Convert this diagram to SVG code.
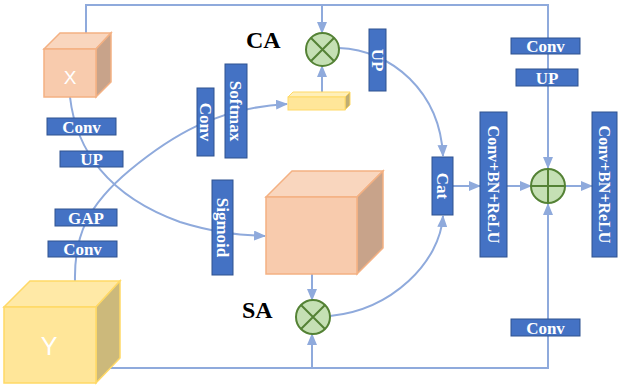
<svg xmlns="http://www.w3.org/2000/svg" width="618" height="391" viewBox="0 0 618 391">
<style>
.ln{fill:none;stroke:#8FAADC;stroke-width:2}
.ar{marker-end:url(#ah)}
.bx{fill:#4472C4;stroke:#2F528F;stroke-width:1}
.bt{font-family:"Liberation Serif","Times New Roman",serif;font-weight:bold;font-size:17px;fill:#fff;text-anchor:middle}
.lbl{font-family:"Liberation Serif","Times New Roman",serif;font-weight:bold;font-size:24px;fill:#000}
.cl{font-family:"Liberation Sans",Arial,sans-serif;fill:#fff;text-anchor:middle}
.op{fill:#C5E0B4;stroke:#548235;stroke-width:2}
.opl{stroke:#548235;stroke-width:2}
</style>
<defs>
<marker id="ah" markerUnits="userSpaceOnUse" markerWidth="12" markerHeight="10" refX="11" refY="5" orient="auto">
<path d="M0,0 L12,5 L0,10 Z" fill="#8FAADC"/>
</marker>
</defs>
<rect width="618" height="391" fill="#fff"/>
<g id="connectors">
<path class="ln" d="M86,33 V5 H548 V168" marker-end="url(#ah)"/>
<path class="ln ar" d="M322,5 V33"/>
<path class="ln" d="M110,368 H548 V204" marker-end="url(#ah)"/>
<path class="ln ar" d="M312,368 V334"/>
<path class="ln ar" d="M322,92 V66"/>
<path class="ln ar" d="M312,274 V300"/>
<path class="ln ar" d="M70,97 C76,150 108,196 180,222 C215,233 240,235 265,236"/>
<path class="ln ar" d="M75,281 C74,235 88,205 130,170 C170,137 215,108 287,104"/>
<path class="ln ar" d="M339,48 C392,50 440,92 443,156"/>
<path class="ln ar" d="M330,316 C392,310 440,262 443,216"/>
<path class="ln ar" d="M453,186 H480"/>
<path class="ln ar" d="M507,186 H531"/>
<path class="ln ar" d="M565,186 H592"/>
</g>
<g id="X">
<path d="M44,49 L60,33 L111,33 L96,49 Z" fill="#F9D6BE" stroke="#F4B183" stroke-width="1.5"/>
<path d="M96,49 L111,33 L111,82 L96,97 Z" fill="#C8A38A" stroke="#F4B183" stroke-width="1.5"/>
<rect x="44" y="49" width="52" height="48" fill="#F8CBAD" stroke="#F4B183" stroke-width="1.5"/>
<text class="cl" x="70" y="84" font-size="19">X</text>
</g>
<g id="Y">
<path d="M4,307 L30,281 L120,281 L96,307 Z" fill="#FFE9A6" stroke="#FFD966" stroke-width="1.5"/>
<path d="M96,307 L120,281 L120,358 L96,383 Z" fill="#CCB97B" stroke="#FFD966" stroke-width="1.5"/>
<rect x="4" y="307" width="92" height="76" fill="#FFE699" stroke="#FFD966" stroke-width="1.5"/>
<text class="cl" x="49" y="355" font-size="25">Y</text>
</g>
<g id="bigcube">
<path d="M266,197 L292,171 L383,171 L357,197 Z" fill="#F9D6BE" stroke="#F4B183" stroke-width="1.5"/>
<path d="M357,197 L383,171 L383,248 L357,274 Z" fill="#C8A38A" stroke="#F4B183" stroke-width="1.5"/>
<rect x="266" y="197" width="91" height="77" fill="#F8CBAD" stroke="#F4B183" stroke-width="1.5"/>
</g>
<g id="bar">
<path d="M288,97 L293,92 L350,92 L345,97 Z" fill="#FFEFB8" stroke="#FFD966" stroke-width="1"/>
<path d="M345,97 L350,92 L350,105 L345,110 Z" fill="#BFAD73" stroke="#FFD966" stroke-width="1"/>
<rect x="288" y="97" width="57" height="13" fill="#FFE699" stroke="#FFD966" stroke-width="1"/>
</g>
<g id="CA">
<circle class="op" cx="322.5" cy="49.5" r="16.5"/>
<path class="opl" d="M310.8,37.8 L334.2,61.2 M334.2,37.8 L310.8,61.2"/>
<text class="lbl" x="246" y="48">CA</text>
</g>
<g id="SA">
<circle class="op" cx="313" cy="317" r="17"/>
<path class="opl" d="M301,305 L325,329 M325,305 L301,329"/>
<text class="lbl" x="242" y="318">SA</text>
</g>
<g id="add">
<circle class="op" cx="548" cy="186" r="17"/>
<path class="opl" d="M531,186 H565 M548,169 V203"/>
</g>
<g id="convX"><rect class="bx" x="47" y="118" width="69" height="17"/><text class="bt" x="81.5" y="132.5">Conv</text></g>
<g id="upX"><rect class="bx" x="60" y="151" width="63" height="16"/><text class="bt" x="91.5" y="165">UP</text></g>
<g id="gap"><rect class="bx" x="55" y="209" width="62" height="17"/><text class="bt" x="86" y="223.5">GAP</text></g>
<g id="convY"><rect class="bx" x="48" y="241" width="69" height="16"/><text class="bt" x="82.5" y="255">Conv</text></g>
<g id="convTR"><rect class="bx" x="511" y="38" width="69" height="16"/><text class="bt" x="545.5" y="52">Conv</text></g>
<g id="upTR"><rect class="bx" x="516" y="69" width="62" height="17"/><text class="bt" x="547" y="83.5">UP</text></g>
<g id="convBR"><rect class="bx" x="511" y="319" width="69" height="17"/><text class="bt" x="545.5" y="333.5">Conv</text></g>
<g id="convV"><rect class="bx" x="197" y="88" width="17" height="68"/><text class="bt" transform="translate(205.5,122) rotate(90)" dy="0.35em">Conv</text></g>
<g id="softmax"><rect class="bx" x="225" y="64" width="22" height="94"/><text class="bt" transform="translate(236,111) rotate(90)" dy="0.35em">Softmax</text></g>
<g id="upV"><rect class="bx" x="369" y="29" width="17" height="62"/><text class="bt" transform="translate(377.5,60) rotate(90)" dy="0.35em">UP</text></g>
<g id="sigmoid"><rect class="bx" x="212" y="180" width="21" height="95"/><text class="bt" transform="translate(222.5,227.5) rotate(90)" dy="0.35em">Sigmoid</text></g>
<g id="cat"><rect class="bx" x="432" y="157" width="21" height="58"/><text class="bt" transform="translate(442.5,186) rotate(90)" dy="0.35em">Cat</text></g>
<g id="cbr1"><rect class="bx" x="480" y="112" width="27" height="145"/><text class="bt" font-size="16" style="font-size:16px" transform="translate(493.5,184.5) rotate(90)" dy="0.35em">Conv+BN+ReLU</text></g>
<g id="cbr2"><rect class="bx" x="592" y="112" width="25" height="145"/><text class="bt" style="font-size:16px" transform="translate(604.5,184.5) rotate(90)" dy="0.35em">Conv+BN+ReLU</text></g>
</svg>
